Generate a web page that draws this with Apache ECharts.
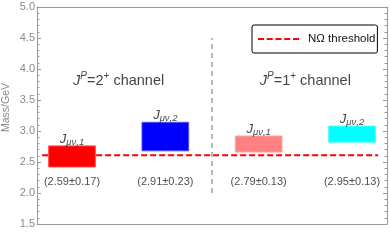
<!DOCTYPE html>
<html>
<head>
<meta charset="utf-8">
<script src="https://cdn.jsdelivr.net/npm/echarts@6/dist/echarts.min.js"></script>
<style>html,body{margin:0;padding:0;background:#fff}#c{width:390px;height:247px}</style>
</head>
<body>
<div id="c"></div>
<script>
// ---- data ----
const positions = [1, 2, 3, 4];
const masses = [2.59, 2.91, 2.79, 2.95];
const errors = [0.17, 0.23, 0.13, 0.13];
const currentIndex = ['1', '2', '1', '2'];
const channelSpins = ['2', '1'];
const channelCenters = [1.5, 3.5];
const threshold = 2.61;
const thresholdSpan = [0.68, 4.28];
const thresholdName = 'NΩ threshold';
const dividerX = 2.5;
const dividerRange = [2.0, 4.5];
const yMin = 1.5, yMax = 5.0, yStep = 0.5;
const xMin = 0.625, xMax = 4.375, xStep = 0.125;
const valueLabelY = 2.18;
const channelLabelY = 3.81;

// ---- styles ----
const boxColors = ['#ff0000', '#0000ff', '#ff8080', '#00ffff'];
const boxHalfWidth = 0.25;
const font = 'Liberation Sans, Arial, sans-serif';

const chart = echarts.init(document.getElementById('c'), null, {renderer: 'canvas'});

const boxData = positions.map((x, i) => [x, masses[i], errors[i], i]);
const jLabelData = positions.map((x, i) => ({value: [x, masses[i] + errors[i]], idx: currentIndex[i]}));
const valueLabelData = positions.map((x, i) => ({value: [x, valueLabelY], txt: '(' + masses[i].toFixed(2) + '±' + errors[i].toFixed(2) + ')'}));
const channelData = channelCenters.map((x, i) => ({value: [x, channelLabelY], spin: channelSpins[i]}));

const axisGray = '#9a9a9a';
const dashIcon = 'path://M0,0h6v2h-6zM8.75,0h6v2h-6zM17.5,0h6v2h-6zM26.25,0h6v2h-6zM35,0h6v2h-6z';

const xAxisBase = {type: 'value', min: xMin, max: xMax, interval: xStep,
  axisLine: {show: true, lineStyle: {color: axisGray}}, axisTick: {show: false},
  axisLabel: {show: false}, splitLine: {show: false}};

const option = {
  animation: false,
  grid: {left: 37, right: 3, top: 7, bottom: 23, containLabel: false, outerBoundsMode: 'none'},
  legend: {
    show: true,
    data: [{name: thresholdName, icon: dashIcon}],
    left: 252, top: 25,
    padding: [8, 2, 8, 6],
    borderColor: '#000', borderWidth: 1, borderRadius: 2,
    itemWidth: 41, itemHeight: 2, itemGap: 10,
    symbolKeepAspect: false,
    textStyle: {fontFamily: font, fontSize: 11.5, color: '#111', padding: [0, 0, 0, 4]},
    selectedMode: false
  },
  xAxis: [
    Object.assign({}, xAxisBase, {position: 'bottom'}),
    Object.assign({}, xAxisBase, {position: 'top'})
  ],
  yAxis: [
    {type: 'value', min: yMin, max: yMax, interval: yStep, position: 'left',
     name: 'Mass/GeV', nameLocation: 'middle', nameGap: 25, nameRotate: 90,
     nameMoveOverlap: false,
     nameTextStyle: {fontFamily: font, fontSize: 10.5, color: '#8a8a8a', padding: [0, 0, 0, 16]},
     axisLine: {show: true, lineStyle: {color: axisGray}},
     axisTick: {show: true, inside: true, length: 4, lineStyle: {color: axisGray}},
     minorTick: {show: true, splitNumber: 5, length: 2.5, lineStyle: {color: axisGray}},
     axisLabel: {fontFamily: font, fontSize: 11, color: '#8a8a8a', margin: 2,
                 formatter: v => v.toFixed(1)},
     splitLine: {show: false}},
    {type: 'value', min: yMin, max: yMax, interval: yStep, position: 'right',
     axisLine: {show: true, lineStyle: {color: axisGray}},
     axisTick: {show: true, inside: true, length: 4, lineStyle: {color: axisGray}},
     minorTick: {show: true, splitNumber: 5, length: 2.5, lineStyle: {color: axisGray}},
     axisLabel: {show: false}, splitLine: {show: false}}
  ],
  series: [
    {
      name: thresholdName, type: 'line', z: 1,
      data: [[thresholdSpan[0], threshold], [thresholdSpan[1], threshold]],
      showSymbol: false, symbol: 'none',
      lineStyle: {color: '#ff0000', width: 2, type: [6, 3]},
      itemStyle: {color: '#ff0000'},
      silent: true
    },
    {
      name: 'divider', type: 'line', z: 1,
      data: [[dividerX, dividerRange[0]], [dividerX, dividerRange[1]]],
      showSymbol: false, symbol: 'none',
      lineStyle: {color: '#8a8a8a', width: 1.2, type: [5, 4]},
      silent: true
    },
    {
      name: 'boxes', type: 'custom', z: 3,
      data: boxData,
      renderItem: function (params, api) {
        const x = api.value(0), m = api.value(1), e = api.value(2), i = api.value(3);
        const p1 = api.coord([x - boxHalfWidth, m + e]);
        const p2 = api.coord([x + boxHalfWidth, m - e]);
        return {type: 'rect',
          shape: {x: p1[0], y: p1[1], width: p2[0] - p1[0], height: p2[1] - p1[1]},
          style: {fill: boxColors[i], stroke: echarts.color.lift(boxColors[i], 0.3), lineWidth: 1}};
      }
    },
    {
      name: 'jlabels', type: 'scatter', z: 4, symbolSize: 0, silent: true,
      data: jLabelData,
      label: {show: true, position: 'top', distance: -1,
        formatter: p => '{j|J}{s|μν,' + p.data.idx + '}',
        rich: {
          j: {fontFamily: font, fontStyle: 'italic', fontSize: 13, color: '#111', lineHeight: 13, verticalAlign: 'middle'},
          s: {fontFamily: font, fontStyle: 'italic', fontSize: 9.5, color: '#111', lineHeight: 15, verticalAlign: 'bottom'}
        }}
    },
    {
      name: 'vlabels', type: 'scatter', z: 4, symbolSize: 0, silent: true,
      data: valueLabelData,
      label: {show: true, position: 'inside', formatter: p => p.data.txt,
        fontFamily: font, fontSize: 11, color: '#222'}
    },
    {
      name: 'channels', type: 'scatter', z: 4, symbolSize: 0, silent: true,
      data: channelData,
      label: {show: true, position: 'inside',
        formatter: p => '{j|J}{sup|P}{n|=' + p.data.spin + '}{sup2|+}{n| channel}',
        rich: {
          j: {fontFamily: font, fontStyle: 'italic', fontSize: 14.5, color: '#111', lineHeight: 20, verticalAlign: 'middle'},
          n: {fontFamily: font, fontSize: 14.5, color: '#111', lineHeight: 20, verticalAlign: 'middle'},
          sup: {fontFamily: font, fontStyle: 'italic', fontSize: 10, color: '#111', lineHeight: 14, verticalAlign: 'top'},
          sup2: {fontFamily: font, fontSize: 10, color: '#111', lineHeight: 14, verticalAlign: 'top'}
        }}
    }
  ]
};
chart.setOption(option);
</script>
</body>
</html>
